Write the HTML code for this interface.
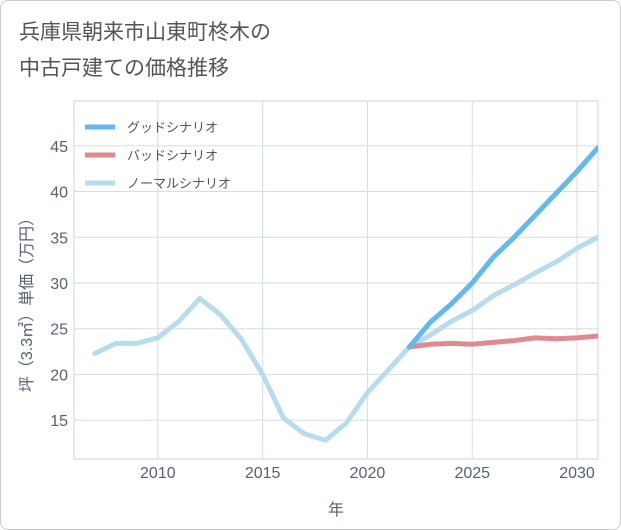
<!DOCTYPE html>
<html><head><meta charset="utf-8"><style>
body{margin:0;background:#fff;}
#card{position:absolute;left:0;top:0;width:619px;height:528px;border:1px solid #ccc;border-radius:8px;background:#fff;overflow:hidden;font-family:"Liberation Sans","Noto Sans CJK JP",sans-serif;}
#title{position:absolute;left:18px;top:14px;font-size:21px;line-height:36px;color:#555;}
</style></head><body>
<div id="card">
<div id="title">兵庫県朝来市山東町柊木の<br>中古戸建ての価格推移</div>
<svg id="chart" width="621" height="530" style="position:absolute;left:0;top:0"><defs><clipPath id="pc"><rect x="73" y="100" width="524" height="358"/></clipPath></defs></svg>
</div>
<script>
const years=[2007,2008,2009,2010,2011,2012,2013,2014,2015,2016,2017,2018,2019,2020,2021,2022,2023,2024,2025,2026,2027,2028,2029,2030,2031];
const normal=[22.3,23.4,23.4,24.0,25.8,28.3,26.5,23.8,20.0,15.2,13.5,12.8,14.7,18.0,20.5,23.0,24.3,25.8,27.0,28.6,29.8,31.1,32.3,33.8,35.0];
const goodYears=[2022,2023,2024,2025,2026,2027,2028,2029,2030,2031];
const good=[23.0,25.7,27.7,30.0,32.8,35.0,37.4,39.8,42.2,44.8];
const bad=[23.0,23.3,23.4,23.3,23.5,23.7,24.0,23.9,24.0,24.2];
const xTicks=[2010,2015,2020,2025,2030];
const yTicks=[15,20,25,30,35,40,45];
const L=73,R=597,T=100,B=458;
const x=v=>L+(v-2006)*(R-L)/25;
const y=v=>B-(v-10.75)*(B-T)/(49.9-10.75);
const svg=document.getElementById('chart');
const NS='http://www.w3.org/2000/svg';
function el(t,a,txt){const e=document.createElementNS(NS,t);for(const k in a)e.setAttribute(k,a[k]);if(txt!=null)e.textContent=txt;svg.appendChild(e);return e;}
let r=el('rect',{x:L,y:T,width:R-L,height:B-T,fill:'none',stroke:'#ccd6e0'});


xTicks.forEach(t=>{
 let g=el('line',{x1:x(t),x2:x(t),y1:T,y2:B,stroke:'#d5dde6'});
 
 
 let l=el('text',{x:x(t),y:477,'text-anchor':'middle','font-size':16,fill:'#566070'},t);
 
 
});
yTicks.forEach(t=>{
 let g=el('line',{x1:L,x2:R,y1:y(t),y2:y(t),stroke:'#d5dde6'});
 
 
 let l=el('text',{x:67,y:y(t)+6,'text-anchor':'end','font-size':16,fill:'#566070'},t);
 
 
});
let xt=el('text',{x:335,y:514,'text-anchor':'middle','font-size':16,fill:'#566070'},'年');


let yt=el('text',{x:0,y:0,'text-anchor':'middle','font-size':16,fill:'#566070',transform:'translate(31,300) rotate(-90)'},'坪（3.3㎡）単価（万円）');


function line(xs,vs,color,name){
 const d=vs.map((v,i)=>(i?'L':'M')+x(xs[i])+','+y(v)).join('');
 let p=el('path',{d:d,fill:'none',stroke:color,'stroke-width':5,'stroke-linejoin':'round','stroke-linecap':'round','clip-path':'url(#pc)'});
 
 
}
line(years,normal,'#b9dcec','normal-scenario-line');
line(goodYears,bad,'#e08a90','bad-scenario-line');
line(goodYears,good,'#63b8ef','good-scenario-line');
const legend=[['グッドシナリオ','#63b8ef'],['バッドシナリオ','#e08a90'],['ノーマルシナリオ','#b9dcec']];
legend.forEach((it,i)=>{
 const yy=126+i*28;
 let s=el('line',{x1:84,x2:114,y1:yy,y2:yy,stroke:it[1],'stroke-width':5});
 
 
 let t=el('text',{x:126,y:yy+5,'font-size':13,fill:'#555'},it[0]);
 
 
});
</script>
</body></html>
